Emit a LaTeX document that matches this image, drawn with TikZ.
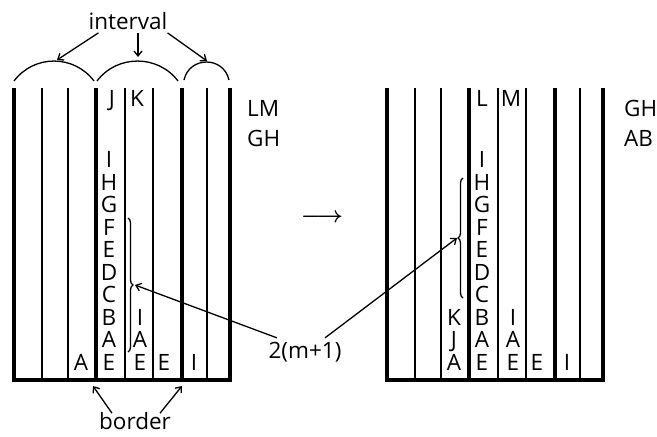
\documentclass[tikz,border=0pt]{standalone}
\usepackage{fontspec}
\setmainfont{Open Sans}
\usetikzlibrary{arrows.meta,decorations.pathreplacing}

\begin{document}
\begin{tikzpicture}[x=1pt,y=-1pt,
    >={Straight Barb[length=5pt,width=8pt]},
    txt/.style={font=\fontsize{22.5}{26}\selectfont,inner sep=0pt},
    chr/.style={txt,text height=16pt,text depth=0pt},
    heavy/.style={line width=3.2pt},
    light/.style={line width=1.3pt}]
  \useasboundingbox (0,0) rectangle (657,437);
  \foreach \s in {0,373} {
    \draw[heavy] (14+\s,88) -- (14+\s,380) -- (230+\s,380) -- (230+\s,88);
    \foreach \x in {96,182}
      \draw[heavy] (\x+\s,88) -- (\x+\s,380);
    \foreach \x in {42,68,125,153,207}
      \draw[light] (\x+\s,88) -- (\x+\s,380);
  }
  \foreach \c [count=\i from 0] in {E,A,B,C,D,E,F,G,H,I} {
    \node[chr] (p\i) at (109,362-22.45*\i) {\c};
    \node[chr] (q\i) at (482,362-22.45*\i) {\c};
  }
  \path
    (112,98) node[chr] (pj){J}
    (137,98) node[chr] (pk){K}
    (81,362) node[chr] (pa){A}
    (140,362) node[chr] (pe1){E}
    (140,339.5) node[chr] (pa1){A}
    (140,317) node[chr] (pi1){I}
    (164,362) node[chr] (pe2){E}
    (194,362) node[chr] (pi2){I}
    (247,108) node[chr,anchor=west] (plm){LM}
    (247,138) node[chr,anchor=west] (pgh){GH};
  \path
    (482,98) node[chr] (ql){L}
    (511,98) node[chr] (qm){M}
    (454,362) node[chr] (qa){A}
    (454,339.5) node[chr] (qj){J}
    (454,317) node[chr] (qk){K}
    (513,362) node[chr] (qe1){E}
    (513,339.5) node[chr] (qa1){A}
    (513,317) node[chr] (qi1){I}
    (537,362) node[chr] (qe2){E}
    (567,362) node[chr] (qi2){I}
    (624,108) node[chr,anchor=west] (qgh){GH}
    (624,138) node[chr,anchor=west] (qab){AB};
  \node[txt] (to) at (322,218) {\scalebox{1.1}{\boldmath$\longrightarrow$}};
  \node[txt] (iv) at (128,21) {interval};
  \node[txt] (bd) at (135,421) {border};
  \node[txt,inner ysep=4pt] (m) at (305,352) {2(m+1)};
  \draw[light] (14,81) .. controls (34,54.4) and (74,54.4) .. (94,81);
  \draw[light] (97,81) .. controls (117,54.4) and (158,54.4) .. (178,81);
  \draw[light] (184,80) .. controls (189.4,56) and (223.6,56) .. (229,80);
  \draw[light,decorate,decoration={brace,amplitude=5pt}] (128,218) -- (128,352);
  \draw[light,decorate,decoration={brace,amplitude=5pt}] (463,298) -- (463,178);
  \coordinate (c1) at (57,60);
  \coordinate (c2) at (138,57);
  \coordinate (c3) at (207,61);
  \coordinate (b1) at (93,386);
  \coordinate (b2) at (182,386);
  \coordinate (lt) at (135,285);
  \coordinate (rt) at (457,238);
  \begin{scope}[light,->]
    \draw ([xshift=10pt,yshift=-3pt]iv.south west) -- (c1);
    \draw ([xshift=10pt,yshift=-3pt]iv.south) -- (c2);
    \draw ([yshift=-3pt]iv.south east) -- (c3);
    \draw ([xshift=13pt,yshift=-1pt]bd.north west) -- (b1);
    \draw ([xshift=-11pt,yshift=-1pt]bd.north east) -- (b2);
    \draw ([xshift=-28pt]m.north) -- (lt);
    \draw ([xshift=20pt]m.north) -- (rt);
  \end{scope}
\end{tikzpicture}
\end{document}
